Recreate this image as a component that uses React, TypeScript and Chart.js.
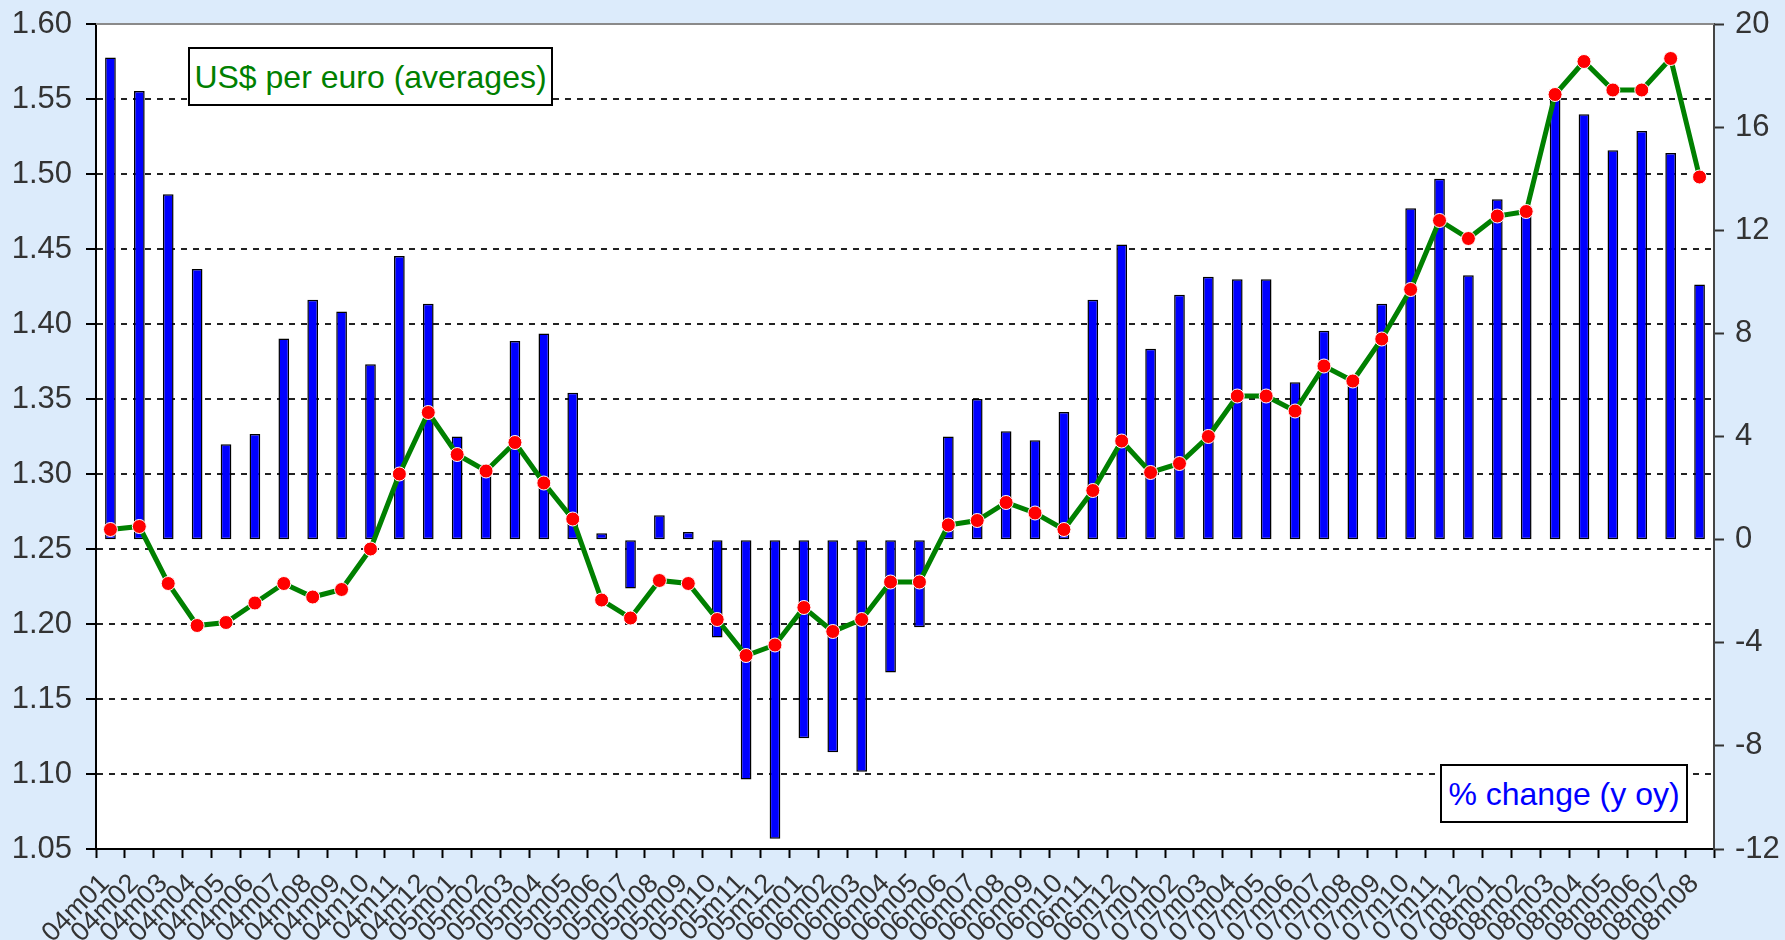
import React, { useEffect, useRef } from "react";
import { Chart, registerables } from "chart.js";

Chart.register(...registerables);

// ---------- data ----------
const months: string[] = [
  "04m01", "04m02", "04m03", "04m04", "04m05", "04m06", "04m07", "04m08", "04m09", "04m10", "04m11", "04m12",
  "05m01", "05m02", "05m03", "05m04", "05m05", "05m06", "05m07", "05m08", "05m09", "05m10", "05m11", "05m12",
  "06m01", "06m02", "06m03", "06m04", "06m05", "06m06", "06m07", "06m08", "06m09", "06m10", "06m11", "06m12",
  "07m01", "07m02", "07m03", "07m04", "07m05", "07m06", "07m07", "07m08", "07m09", "07m10", "07m11", "07m12",
  "08m01", "08m02", "08m03", "08m04", "08m05", "08m06", "08m07", "08m08",
];

// US$ per euro, monthly averages (left axis)
const usdPerEuro: number[] = [
  1.263, 1.265, 1.227, 1.199, 1.201, 1.214, 1.227, 1.218, 1.223, 1.250, 1.300, 1.341,
  1.313, 1.302, 1.321, 1.294, 1.270, 1.216, 1.204, 1.229, 1.227, 1.203, 1.179, 1.186,
  1.211, 1.195, 1.203, 1.228, 1.228, 1.266, 1.269, 1.281, 1.274, 1.263, 1.289, 1.322,
  1.301, 1.307, 1.325, 1.352, 1.352, 1.342, 1.372, 1.362, 1.390, 1.423, 1.469, 1.457,
  1.472, 1.475, 1.553, 1.575, 1.556, 1.556, 1.577, 1.498,
];

// % change y/y (right axis)
const pctChange: number[] = [
  18.7, 17.4, 13.4, 10.5, 3.7, 4.1, 7.8, 9.3, 8.85, 6.8, 11.0, 9.15,
  4.0, 2.9, 7.7, 8.0, 5.7, 0.25, -1.9, 0.95, 0.3, -3.8, -9.3, -11.6,
  -7.7, -8.25, -9.0, -5.15, -3.4, 4.0, 5.45, 4.2, 3.85, 4.95, 9.3, 11.45,
  7.4, 9.5, 10.2, 10.1, 10.1, 6.1, 8.1, 6.3, 9.15, 12.85, 14.0, 10.25,
  13.2, 12.8, 17.2, 16.5, 15.1, 15.85, 15.0, 9.9,
];

const leftMin = 1.05;
const leftMax = 1.6;
const leftStep = 0.05;
const rightMin = -12;
const rightMax = 20;
const rightStep = 4;

const lineLabel = "US$ per euro (averages)";
const barLabel = "% change (y oy)";

// ---------- layout / style ----------
const W = 1785;
const H = 940;
const AREA = { left: 96, right: 1714, top: 24, bottom: 849 };
const BG = "#DCEBFB";
const FONT = '"Liberation Sans", Arial, Helvetica, sans-serif';

const plotPlugin = {
  id: "plotPlugin",
  beforeDraw(chart: any) {
    const { ctx, chartArea: a } = chart;
    ctx.save();
    ctx.fillStyle = "#ffffff";
    ctx.fillRect(a.left, a.top, a.right - a.left, a.bottom - a.top);
    ctx.restore();
  },
  afterDraw(chart: any) {
    const { ctx, chartArea: a } = chart;
    ctx.save();
    ctx.strokeStyle = "#8a8a8a";
    ctx.lineWidth = 2;
    ctx.beginPath();
    ctx.moveTo(a.left, a.top);
    ctx.lineTo(a.right, a.top);
    ctx.stroke();
    ctx.restore();
  },
};

const noPad = (s: any) => {
  s.paddingTop = 0;
  s.paddingBottom = 0;
  s.paddingLeft = 0;
  s.paddingRight = 0;
};

export default function App() {
  const ref = useRef<HTMLCanvasElement | null>(null);

  useEffect(() => {
    if (!ref.current) return;
    Chart.defaults.font.family = FONT;
    const chart = new Chart(ref.current, {
      type: "bar",
      data: {
        labels: months,
        datasets: [
          {
            type: "line",
            label: lineLabel,
            data: usdPerEuro,
            yAxisID: "y",
            borderColor: "#008000",
            borderWidth: 5,
            pointRadius: 7,
            pointBackgroundColor: "#ff0000",
            pointBorderColor: "#ffffff",
            pointBorderWidth: 1,
            tension: 0,
            order: 0,
          } as any,
          {
            type: "bar",
            label: barLabel,
            data: pctChange,
            yAxisID: "y1",
            backgroundColor: "#0000ff",
            borderColor: "#000000",
            borderWidth: 1.5,
            borderSkipped: false,
            categoryPercentage: 1,
            barPercentage: 0.37,
            order: 1,
          } as any,
        ],
      },
      options: {
        responsive: false,
        animation: false,
        devicePixelRatio: 1,
        layout: { padding: { top: AREA.top, left: 0, right: 0, bottom: 0 } },
        plugins: {
          legend: { display: false },
          tooltip: { enabled: false },
          title: { display: false },
        },
        scales: {
          x: {
            type: "category",
            offset: true,
            grid: {
              display: true,
              drawOnChartArea: false,
              drawTicks: true,
              tickLength: 9,
              tickColor: "#000",
              tickWidth: 2,
              offset: true,
            },
            border: { display: true, color: "#000", width: 2 },
            ticks: {
              autoSkip: false,
              maxRotation: 45,
              minRotation: 45,
              color: "#333",
              padding: 10,
              labelOffset: -5,
              font: { size: 27, family: FONT },
            },
            afterFit: (s: any) => {
              s.height = H - AREA.bottom;
              noPad(s);
            },
          },
          y: {
            position: "left",
            min: leftMin,
            max: leftMax,
            ticks: {
              stepSize: leftStep,
              color: "#333",
              padding: 14,
              font: { size: 31, family: FONT },
              callback: (v: any) => Number(v).toFixed(2),
            },
            grid: {
              color: (c: any) => {
                const v = c.tick ? c.tick.value : 0;
                if (Math.abs(v - leftMax) < 1e-6 || Math.abs(v - leftMin) < 1e-6) return "rgba(0,0,0,0)";
                return "#222222";
              },
              lineWidth: 2,
              tickColor: "#000",
              tickWidth: 2,
              tickLength: 10,
              tickBorderDash: [],
            },
            border: { display: true, color: "#000", width: 2, dash: [6, 6] },
            afterFit: (s: any) => {
              s.width = AREA.left;
              noPad(s);
            },
          },
          y1: {
            position: "right",
            min: rightMin,
            max: rightMax,
            ticks: {
              stepSize: rightStep,
              color: "#333",
              padding: 11,
              font: { size: 31, family: FONT },
            },
            grid: {
              drawOnChartArea: false,
              tickColor: "#333",
              tickWidth: 2,
              tickLength: 10,
            },
            border: { display: true, color: "#444", width: 2 },
            afterFit: (s: any) => {
              s.width = W - AREA.right;
              noPad(s);
            },
          },
        },
      } as any,
      plugins: [plotPlugin],
    });
    return () => chart.destroy();
  }, []);

  const boxBase: React.CSSProperties = {
    position: "absolute",
    boxSizing: "border-box",
    border: "2px solid #000",
    background: "#fff",
    display: "flex",
    alignItems: "center",
    justifyContent: "center",
    whiteSpace: "nowrap",
    fontFamily: FONT,
    fontSize: 32,
    lineHeight: 1,
  };

  return (
    <div
      style={{
        position: "fixed",
        left: 0,
        top: 0,
        width: W,
        height: H,
        background: BG,
        overflow: "hidden",
      }}
    >
      <canvas
        ref={ref}
        width={W}
        height={H}
        style={{ position: "absolute", left: 0, top: 0, width: W, height: H }}
      />
      <div style={{ ...boxBase, left: 188, top: 47, width: 365, height: 59, color: "#008000" }}>
        {lineLabel}
      </div>
      <div style={{ ...boxBase, left: 1440, top: 764, width: 248, height: 59, color: "#0000ff" }}>
        {barLabel}
      </div>
    </div>
  );
}
